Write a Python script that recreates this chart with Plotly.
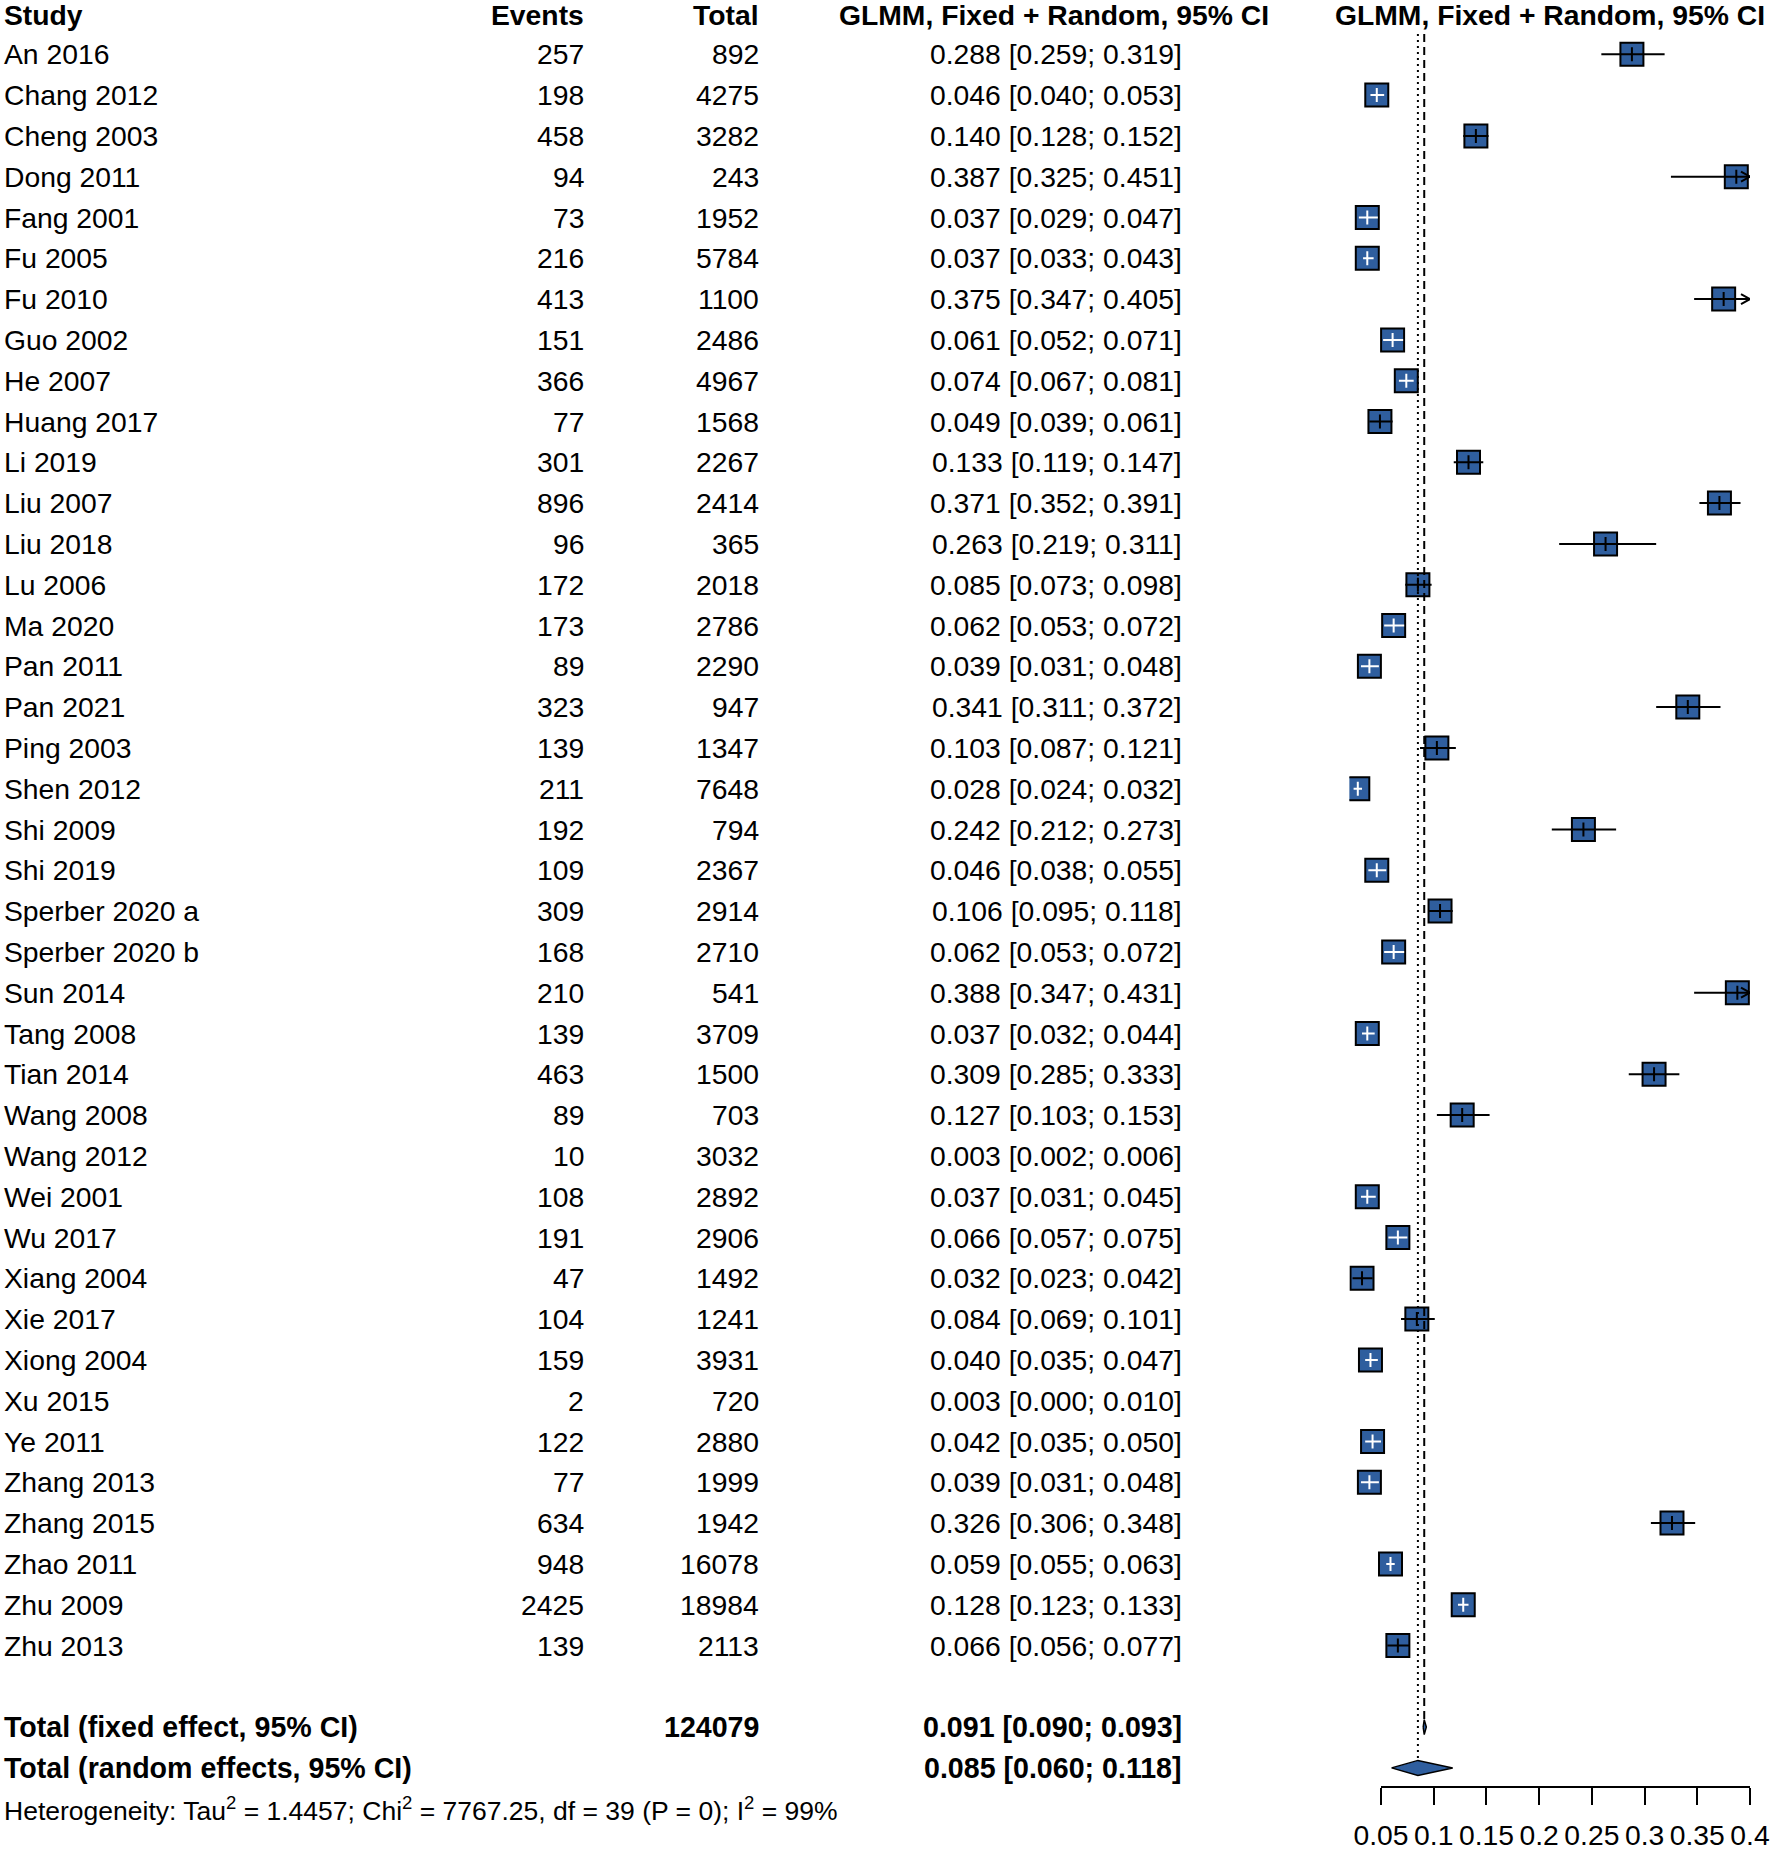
import plotly.graph_objects as go

# ---------------- data ----------------
studies = ["An 2016", "Chang 2012", "Cheng 2003", "Dong 2011", "Fang 2001", "Fu 2005", "Fu 2010",
           "Guo 2002", "He 2007", "Huang 2017", "Li 2019", "Liu 2007", "Liu 2018", "Lu 2006",
           "Ma 2020", "Pan 2011", "Pan 2021", "Ping 2003", "Shen 2012", "Shi 2009", "Shi 2019",
           "Sperber 2020 a", "Sperber 2020 b", "Sun 2014", "Tang 2008", "Tian 2014", "Wang 2008",
           "Wang 2012", "Wei 2001", "Wu 2017", "Xiang 2004", "Xie 2017", "Xiong 2004", "Xu 2015",
           "Ye 2011", "Zhang 2013", "Zhang 2015", "Zhao 2011", "Zhu 2009", "Zhu 2013"]
events = [257, 198, 458, 94, 73, 216, 413, 151, 366, 77, 301, 896, 96, 172, 173, 89, 323, 139, 211,
          192, 109, 309, 168, 210, 139, 463, 89, 10, 108, 191, 47, 104, 159, 2, 122, 77, 634, 948,
          2425, 139]
totals = [892, 4275, 3282, 243, 1952, 5784, 1100, 2486, 4967, 1568, 2267, 2414, 365, 2018, 2786,
          2290, 947, 1347, 7648, 794, 2367, 2914, 2710, 541, 3709, 1500, 703, 3032, 2892, 2906,
          1492, 1241, 3931, 720, 2880, 1999, 1942, 16078, 18984, 2113]
est = [0.288, 0.046, 0.140, 0.387, 0.037, 0.037, 0.375, 0.061, 0.074, 0.049, 0.133, 0.371, 0.263,
       0.085, 0.062, 0.039, 0.341, 0.103, 0.028, 0.242, 0.046, 0.106, 0.062, 0.388, 0.037, 0.309,
       0.127, 0.003, 0.037, 0.066, 0.032, 0.084, 0.040, 0.003, 0.042, 0.039, 0.326, 0.059, 0.128,
       0.066]
lower = [0.259, 0.040, 0.128, 0.325, 0.029, 0.033, 0.347, 0.052, 0.067, 0.039, 0.119, 0.352, 0.219,
         0.073, 0.053, 0.031, 0.311, 0.087, 0.024, 0.212, 0.038, 0.095, 0.053, 0.347, 0.032, 0.285,
         0.103, 0.002, 0.031, 0.057, 0.023, 0.069, 0.035, 0.000, 0.035, 0.031, 0.306, 0.055, 0.123,
         0.056]
upper = [0.319, 0.053, 0.152, 0.451, 0.047, 0.043, 0.405, 0.071, 0.081, 0.061, 0.147, 0.391, 0.311,
         0.098, 0.072, 0.048, 0.372, 0.121, 0.032, 0.273, 0.055, 0.118, 0.072, 0.431, 0.044, 0.333,
         0.153, 0.006, 0.045, 0.075, 0.042, 0.101, 0.047, 0.010, 0.050, 0.048, 0.348, 0.063, 0.133,
         0.077]
# CI drawn in white inside the box (as seen in the picture)
inside_white = [0, 1, 0, 0, 1, 1, 0, 1, 1, 0, 0, 0, 0, 0, 1, 1, 0, 0, 1, 0, 1, 0, 1, 0, 1, 0, 0, 0,
                1, 1, 0, 0, 1, 0, 1, 1, 0, 1, 1, 0]

total_n = 124079
fixed = (0.091, 0.090, 0.093)
random_ = (0.085, 0.060, 0.118)
het = dict(tau2="1.4457", chi2="7767.25", df=39, p="0", i2="99%")

tick_vals = [0.05, 0.1, 0.15, 0.2, 0.25, 0.3, 0.35, 0.4]
tick_text = ["0.05", "0.1", "0.15", "0.2", "0.25", "0.3", "0.35", "0.4"]

col_header = ["Study", "Events", "Total", "GLMM, Fixed + Random, 95% CI"]
plot_header = "GLMM, Fixed + Random, 95% CI"

# ---------------- layout constants ----------------
W, H = 1772, 1852
ROW0, ROWH = 54.3, 40.8             # pixel centre of first row, row height
XMIN, XMAX = 0.02, 0.4              # forest plot limits
PX0, PXU = 1381.0, 1054.3           # pixel of 0.05, px per unit
def vpx(v):
    return PX0 + (v - 0.05) * PXU
def fx(p):                          # px -> paper x
    return p / W
FONT = "Liberation Sans, Arial, sans-serif"
FS = 28.3
BLUE = "#2F5E9E"

n = len(studies)
row_fixed, row_random, row_het = n + 1, n + 2, n + 3
y_top = (0 - ROW0) / ROWH
y_bot = (H - ROW0) / ROWH

fig = go.Figure()

# ---- squares
sq_x, sq_y = [], []
for i in range(n):
    if XMIN <= est[i] <= XMAX:
        sq_x.append(est[i]); sq_y.append(i)
fig.add_trace(go.Scatter(x=sq_x, y=sq_y, mode="markers",
                         marker=dict(symbol="square", size=23, color=BLUE,
                                     line=dict(color="black", width=2)),
                         hoverinfo="skip", showlegend=False))

# ---- CI lines (clipped) + arrows
lines = {"black": ([], []), "white": ([], [])}
arrows_x, arrows_y = [], []
ah_x = 9 / PXU
ah_y = 5 / ROWH
for i in range(n):
    lo, up = lower[i], upper[i]
    if up < XMIN or lo > XMAX:
        continue
    a, b = max(lo, XMIN), min(up, XMAX)
    key = "white" if inside_white[i] else "black"
    lines[key][0].extend([a, b, None]); lines[key][1].extend([i, i, None])
    if up > XMAX:
        arrows_x.extend([XMAX - ah_x, XMAX, XMAX - ah_x, None])
        arrows_y.extend([i - ah_y, i, i + ah_y, None])
    if lo < XMIN:
        arrows_x.extend([XMIN + ah_x, XMIN, XMIN + ah_x, None])
        arrows_y.extend([i - ah_y, i, i + ah_y, None])
for key in ("black", "white"):
    fig.add_trace(go.Scatter(x=lines[key][0], y=lines[key][1], mode="lines",
                             line=dict(color=key, width=2), hoverinfo="skip", showlegend=False))
fig.add_trace(go.Scatter(x=arrows_x, y=arrows_y, mode="lines",
                         line=dict(color="black", width=2), hoverinfo="skip", showlegend=False))

# ---- estimate ticks
tk_x, tk_y, tk_c = [], [], []
for i in range(n):
    if XMIN <= est[i] <= XMAX:
        tk_x.append(est[i]); tk_y.append(i)
        tk_c.append("white" if inside_white[i] else "black")
fig.add_trace(go.Scatter(x=tk_x, y=tk_y, mode="markers",
                         marker=dict(symbol="line-ns", size=10, line=dict(color=tk_c, width=2)),
                         hoverinfo="skip", showlegend=False))

# ---- reference lines
dh = 7.5 / ROWH
fig.add_trace(go.Scatter(x=[fixed[0], fixed[0]], y=[-0.5, row_fixed - dh], mode="lines",
                         line=dict(color="black", width=2, dash="8px,5px"),
                         hoverinfo="skip", showlegend=False))
fig.add_trace(go.Scatter(x=[random_[0], random_[0]], y=[-0.5, row_random - dh], mode="lines",
                         line=dict(color="black", width=2, dash="2px,4px"),
                         hoverinfo="skip", showlegend=False))

# ---- diamonds
for (e, lo, up), r in ((fixed, row_fixed), (random_, row_random)):
    fig.add_trace(go.Scatter(x=[lo, e, up, e, lo], y=[r, r - dh, r, r + dh, r], mode="lines",
                             fill="toself", fillcolor=BLUE,
                             line=dict(color="black", width=1.5), hoverinfo="skip",
                             showlegend=False))

# ---- dummy trace to create the tick axis
fig.add_trace(go.Scatter(x=[0.05], y=[0], xaxis="x3", yaxis="y", mode="markers",
                         marker=dict(opacity=0, size=1), hoverinfo="skip", showlegend=False))

# ---- text columns (paper x, data y)
X_STUDY, X_EVENTS, X_TOTAL, X_CI, X_CIH = 1.5, 585.5, 760.5, 1183.5, 1054
anns = []
def txt(x, y, s, anchor, size=FS, bold=False):
    anns.append(dict(x=fx(x), y=y, xref="paper", yref="y", text=(f"<b>{s}</b>" if bold else s),
                     showarrow=False, xanchor=anchor, yanchor="middle",
                     font=dict(family=FONT, size=size, color="black")))

HDR = -1 + 1.0 / ROWH
txt(X_STUDY, HDR, col_header[0], "left", bold=True)
txt(X_EVENTS, HDR, col_header[1], "right", bold=True)
txt(X_TOTAL, HDR, col_header[2], "right", bold=True)
txt(X_CIH, HDR, col_header[3], "center", bold=True)
txt(vpx((XMIN + XMAX) / 2), HDR, plot_header, "center", bold=True)
for i in range(n):
    txt(X_STUDY, i, studies[i], "left")
    txt(X_EVENTS, i, str(events[i]), "right")
    txt(X_TOTAL, i, str(totals[i]), "right")
    txt(X_CI, i, f"{est[i]:.3f} [{lower[i]:.3f}; {upper[i]:.3f}]", "right")
txt(X_STUDY, row_fixed, "Total (fixed effect, 95% CI)", "left", size=28.6, bold=True)
txt(X_TOTAL, row_fixed, str(total_n), "right", size=28.6, bold=True)
txt(X_CI, row_fixed, f"{fixed[0]:.3f} [{fixed[1]:.3f}; {fixed[2]:.3f}]", "right", size=28.6,
    bold=True)
txt(X_STUDY, row_random, "Total (random effects, 95% CI)", "left", size=28.6, bold=True)
txt(X_CI, row_random, f"{random_[0]:.3f} [{random_[1]:.3f}; {random_[2]:.3f}]", "right",
    size=28.6, bold=True)
txt(X_STUDY, row_het,
    f"Heterogeneity: Tau<sup>2</sup> = {het['tau2']}; Chi<sup>2</sup> = {het['chi2']}, "
    f"df = {het['df']} (P = {het['p']}); I<sup>2</sup> = {het['i2']}", "left", size=26.5)

fig.update_layout(
    width=W, height=H, autosize=False,
    margin=dict(l=0, r=0, t=0, b=0, pad=0, autoexpand=False),
    paper_bgcolor="white", plot_bgcolor="rgba(0,0,0,0)", showlegend=False,
    annotations=anns,
    xaxis=dict(domain=[fx(vpx(XMIN)), fx(vpx(XMAX))], range=[XMIN, XMAX], visible=False,
               anchor="y", fixedrange=True, automargin=False),
    xaxis3=dict(domain=[fx(PX0), fx(vpx(XMAX))], range=[0.05, XMAX], anchor="free",
                position=1 - 1787 / H, showline=True, linecolor="black", linewidth=2,
                ticks="outside", ticklen=17, tickwidth=2, tickcolor="black",
                ticklabelstandoff=6,
                tickvals=tick_vals, ticktext=tick_text, showgrid=False, zeroline=False,
                tickfont=dict(family=FONT, size=FS, color="black"), fixedrange=True,
                automargin=False),
    yaxis=dict(domain=[0, 1], range=[y_bot, y_top], visible=False, fixedrange=True,
               automargin=False),
)

# place the figure at the page origin (no default body margin / scrollbars)
fig.write_html("out.html", config={"displayModeBar": False},
               post_script="document.body.style.margin='0';"
                           "document.body.style.overflow='hidden';")
